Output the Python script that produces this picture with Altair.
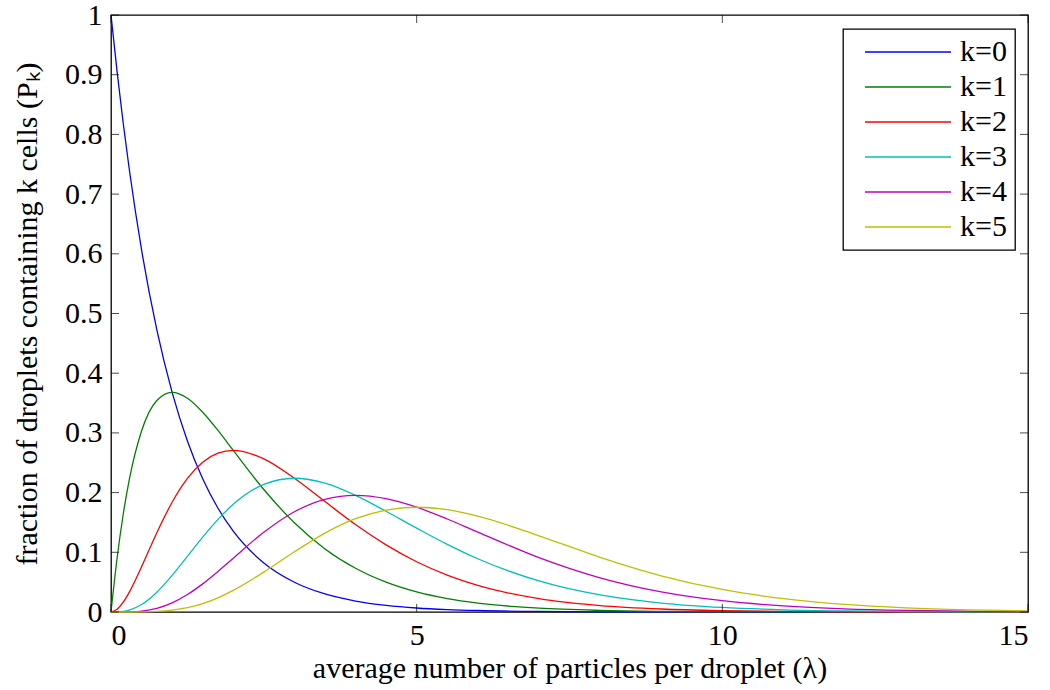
import altair as alt
import pandas as pd

lam = [0, 0.1, 0.2, 0.3, 0.5, 0.75, 1, 1.25, 1.5, 1.75, 2, 2.5, 3, 3.5, 4, 4.5,
       5, 5.5, 6, 7, 8, 9, 10, 11, 12, 13, 14, 15]

p0 = [1, 0.9048, 0.8187, 0.7408, 0.6065, 0.4724, 0.3679, 0.2865, 0.2231, 0.1738, 0.1353,
      0.0821, 0.0498, 0.0302, 0.0183, 0.0111, 0.0067, 0.0041, 0.0025, 0.0009, 0.0003,
      0.0001, 0.00005, 0, 0, 0, 0, 0]
p1 = [0, 0.0905, 0.1637, 0.2222, 0.3033, 0.3543, 0.3679, 0.3581, 0.3347, 0.3041, 0.2707,
      0.2052, 0.1494, 0.1057, 0.0733, 0.0500, 0.0337, 0.0225, 0.0149, 0.0064, 0.0027,
      0.0011, 0.00045, 0.0002, 0.0001, 0, 0, 0]
p2 = [0, 0.0045, 0.0164, 0.0333, 0.0758, 0.1329, 0.1839, 0.2238, 0.2510, 0.2661, 0.2707,
      0.2565, 0.2240, 0.1850, 0.1465, 0.1125, 0.0842, 0.0618, 0.0446, 0.0223, 0.0107,
      0.0050, 0.0023, 0.0010, 0.0004, 0.0002, 0.0001, 0]
p3 = [0, 0.0002, 0.0011, 0.0033, 0.0126, 0.0332, 0.0613, 0.0933, 0.1255, 0.1552, 0.1804,
      0.2138, 0.2240, 0.2158, 0.1954, 0.1687, 0.1404, 0.1133, 0.0892, 0.0521, 0.0286,
      0.0150, 0.0076, 0.0037, 0.0018, 0.0008, 0.0004, 0.0002]
p4 = [0, 0, 0.00005, 0.0003, 0.0016, 0.0062, 0.0153, 0.0292, 0.0471, 0.0679, 0.0902,
      0.1336, 0.1680, 0.1888, 0.1954, 0.1898, 0.1755, 0.1558, 0.1339, 0.0912, 0.0573,
      0.0337, 0.0189, 0.0102, 0.0053, 0.0027, 0.0013, 0.0006]
p5 = [0, 0, 0, 0, 0.0002, 0.0009, 0.0031, 0.0073, 0.0141, 0.0238, 0.0361,
      0.0668, 0.1008, 0.1322, 0.1563, 0.1708, 0.1755, 0.1714, 0.1606, 0.1277, 0.0916,
      0.0607, 0.0378, 0.0224, 0.0127, 0.0070, 0.0037, 0.0019]

series_names = ["k=0", "k=1", "k=2", "k=3", "k=4", "k=5"]
series_vals = [p0, p1, p2, p3, p4, p5]
colors = ["#0000FF", "#008000", "#FF0000", "#00BFBF", "#BF00BF", "#BFBF00"]

x_ticks = [0, 5, 10, 15]
y_ticks = [0, 0.1, 0.2, 0.3, 0.4, 0.5, 0.6, 0.7, 0.8, 0.9, 1]

rows = []
for name, vals in zip(series_names, series_vals):
    for l, v in zip(lam, vals):
        rows.append({"lam": l, "P": v, "k": name})
df = pd.DataFrame(rows)

W, H = 917, 597
FONT = "Liberation Serif"
FS = 30

xscale = alt.Scale(domain=[0, 15], nice=False, zero=False)
yscale = alt.Scale(domain=[0, 1], nice=False)

lines = alt.Chart(df).mark_line(strokeWidth=1.3, interpolate="monotone").encode(
    x=alt.X("lam:Q", scale=xscale,
            axis=alt.Axis(values=x_ticks, title="average number of particles per droplet (λ)",
                          ticks=False, tickSize=0, domain=False, grid=False,
                          labelPadding=8, titlePadding=3, format="d")),
    y=alt.Y("P:Q", scale=yscale,
            axis=alt.Axis(values=y_ticks, title="fraction of droplets containing k cells (Pₖ)",
                          ticks=False, tickSize=0, domain=False, grid=False,
                          labelPadding=9, titlePadding=22,
                          labelExpr="datum.value == 0 ? '0' : datum.value == 1 ? '1' : format(datum.value, '.1f')")),
    color=alt.Color("k:N", scale=alt.Scale(domain=series_names, range=colors),
                    legend=alt.Legend(title=None, orient="none", legendX=732, legendY=14,
                                      symbolType="M-4.3,0H4.3", symbolSize=400, symbolStrokeWidth=1.3,
                                      symbolOffset=42, labelOffset=37,
                                      labelFontSize=FS, labelFont=FONT, rowPadding=5,
                                      padding=8, fillColor="white", strokeColor="black",
                                      labelColor="black")),
)

ydf = pd.DataFrame({"v": y_ticks})
xdf = pd.DataFrame({"v": x_ticks})

yt_left = alt.Chart(ydf).mark_tick(orient="horizontal", size=8, thickness=1, color="black").encode(
    y=alt.Y("v:Q", scale=yscale), x=alt.value(4))
yt_right = alt.Chart(ydf).mark_tick(orient="horizontal", size=8, thickness=1, color="black").encode(
    y=alt.Y("v:Q", scale=yscale), x=alt.value(W - 4))
xt_bot = alt.Chart(xdf).mark_tick(orient="vertical", size=8, thickness=1, color="black").encode(
    x=alt.X("v:Q", scale=xscale), y=alt.value(H - 4))
xt_top = alt.Chart(xdf).mark_tick(orient="vertical", size=8, thickness=1, color="black").encode(
    x=alt.X("v:Q", scale=xscale), y=alt.value(4))

chart = alt.layer(lines, yt_left, yt_right, xt_bot, xt_top).properties(
    width=W, height=H,
    autosize=alt.AutoSizeParams(type="none"),
    padding={"left": 111, "top": 15, "right": 22, "bottom": 78},
).configure(font=FONT).configure_view(stroke="black", strokeWidth=1.3).configure_legend(
    strokeWidth=1.3
).configure_axis(
    labelFont=FONT, titleFont=FONT, labelFontSize=FS, titleFontSize=FS,
    labelColor="black", titleColor="black", titleFontWeight="normal",
)

chart.save("out.html", embed_options={"renderer": "svg", "actions": False})
